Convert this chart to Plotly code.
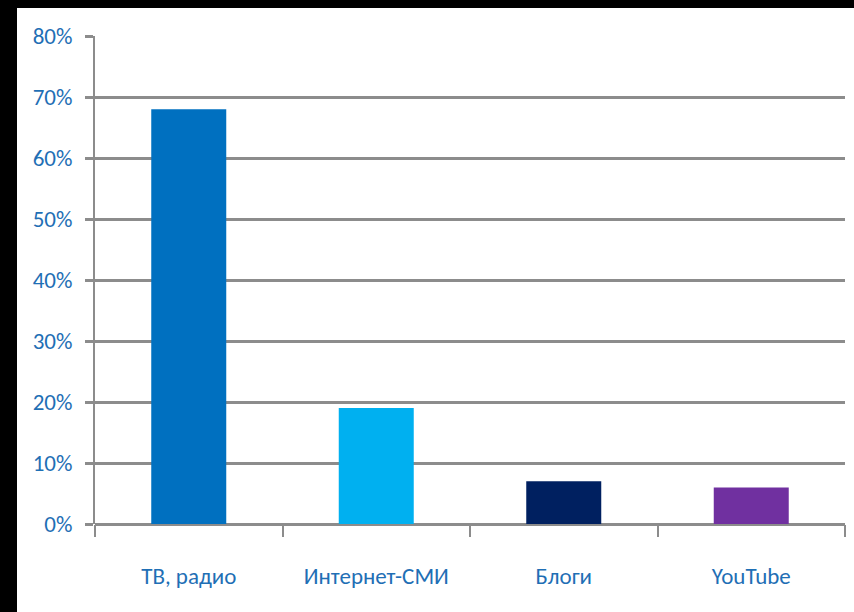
import plotly.graph_objects as go

categories = ["ТВ, радио", "Интернет-СМИ", "Блоги", "YouTube"]
values = [68, 19, 7, 6]
colors = ["#0070C0", "#00B0F0", "#002060", "#7030A0"]
y_ticks = [0, 10, 20, 30, 40, 50, 60, 70, 80]
y_labels = [f"{v}%" for v in y_ticks]

W, H = 854, 612
L, R, T, B = 95, 9, 36, 88
FONT = "Carlito, Liberation Sans Narrow, Noto Sans, sans-serif"
TXT = "#1F6FB5"
GRID = "#8C8C8C"

fig = go.Figure(go.Bar(
    x=categories, y=values, marker=dict(color=colors, line=dict(width=0)),
    width=0.4, hoverinfo="skip"))

pw, ph = W - L - R, H - T - B
def px_x(x):
    return (x - L) / pw
def px_y(y):
    return (H - B - y) / ph

fig.update_layout(
    width=W, height=H,
    margin=dict(l=L, r=R, t=T, b=B, pad=0),
    paper_bgcolor="white", plot_bgcolor="white",
    showlegend=False, bargap=0.6,
    font=dict(family=FONT, size=22, color=TXT),
    xaxis=dict(
        type="category", tickson="boundaries", ticks="outside", ticklen=12,
        tickwidth=2, tickcolor=GRID, showline=False, showgrid=False,
        ticklabelstandoff=36, tickfont=dict(family=FONT, size=23, color=TXT),
        fixedrange=True),
    yaxis=dict(
        range=[0, 80], tickvals=y_ticks, ticktext=y_labels,
        ticks="outside", ticklen=8, tickwidth=3, tickcolor=GRID,
        showgrid=True, gridcolor=GRID, gridwidth=3,
        zeroline=True, zerolinecolor=GRID, zerolinewidth=3,
        showline=True, linecolor=GRID, linewidth=2,
        ticklabelstandoff=8, tickfont=dict(family=FONT, size=23, color=TXT),
        fixedrange=True),
    shapes=[
        dict(type="rect", xref="paper", yref="paper",
             x0=px_x(0), x1=px_x(17), y0=px_y(H), y1=px_y(0),
             fillcolor="black", line=dict(width=0), layer="above"),
        dict(type="rect", xref="paper", yref="paper",
             x0=px_x(0), x1=px_x(W), y0=px_y(8), y1=px_y(0),
             fillcolor="black", line=dict(width=0), layer="above"),
    ],
)

fig.write_html(
    "out.html",
    config={"displayModeBar": False, "staticPlot": True},
    post_script="document.body.style.margin='0';document.body.style.overflow='hidden';",
)
